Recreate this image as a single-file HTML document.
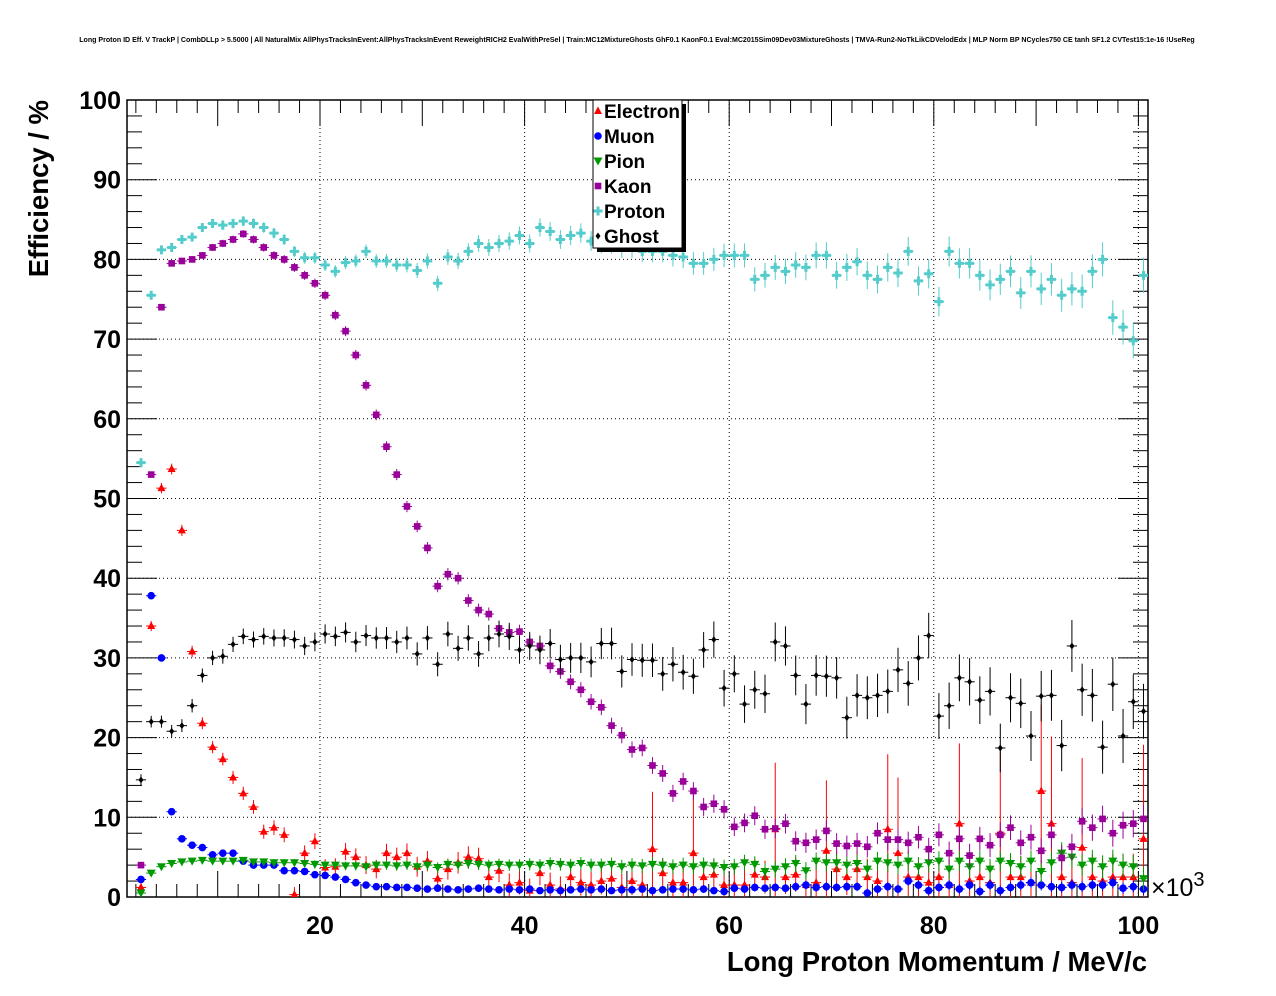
<!DOCTYPE html>
<html><head><meta charset="utf-8"><style>
html,body{margin:0;padding:0;background:#fff;}
svg{display:block;font-family:"Liberation Sans",Arial,sans-serif;}
</style></head><body>
<svg id="chart" width="1276" height="996" viewBox="0 0 1276 996" xmlns="http://www.w3.org/2000/svg">
<defs><clipPath id="pc"><rect x="127" y="100" width="1021" height="797"/></clipPath></defs>
<rect width="1276" height="996" fill="#fff"/>
<text x="637" y="42" font-size="7.05" font-weight="bold" text-anchor="middle">Long Proton ID Eff. V TrackP | CombDLLp &gt; 5.5000 | All NaturalMix AllPhysTracksInEvent:AllPhysTracksInEvent ReweightRICH2 EvalWithPreSel | Train:MC12MixtureGhosts GhF0.1 KaonF0.1 Eval:MC2015Sim09Dev03MixtureGhosts | TMVA-Run2-NoTkLikCDVelodEdx | MLP Norm BP NCycles750 CE tanh SF1.2 CVTest15:1e-16 !UseReg</text>
<g id="grid"></g><g id="axes"></g><g id="marks" clip-path="url(#pc)"></g><g id="legend"></g>
</svg>
<script>
const xTicks=[20,40,60,80,100];
const yTicks=[0,10,20,30,40,50,60,70,80,90,100];
const electron=[1.2,34,51.3,53.7,46,30.8,21.8,18.8,17.3,15,13,11.3,8.2,8.7,7.8,0.3,5.5,7,3.7,3.8,5.7,5,4,3.5,5.5,5,5.5,3.8,4.5,2.3,3.5,4.3,5,4.8,2.5,3.3,1.5,1.8,0.8,3,1.5,1,2.5,1.8,1.5,2,2.3,1.2,2,1.5,6,3,1.8,1.8,5.5,2.5,2.8,1.5,1.5,1.5,2.8,2.5,8.5,2.5,2.8,1.5,1.8,5.8,3.5,2.5,3.5,2.5,2,8.5,5.5,2.5,2.5,1.8,2.5,1.5,9.2,2,2.5,1.8,8,2.5,2.5,1.8,13.3,9.2,2.5,1.8,6.2,2.5,2,2.5,2.5,2.5,7.3];
const muon=[2.2,37.8,30,10.7,7.3,6.5,6.2,5.3,5.5,5.5,4.5,4,4,4,3.3,3.3,3.2,2.8,2.7,2.5,2.2,1.8,1.5,1.3,1.3,1.2,1.2,1.1,1,1.1,1,0.9,1,1.1,1,0.9,1,0.9,1,0.8,0.9,0.8,0.9,1,0.9,1,0.8,0.9,0.9,1,0.8,0.9,1,1,0.9,1,0.8,0.7,1.1,1,1.2,1.1,1.2,1.1,1.3,1.5,1.2,1.3,1.2,1.3,1.3,0.5,1,1.3,1,2,1.5,0.8,1.2,1.5,1,1.5,0.7,1.5,0.8,1.2,1.5,1.8,1.5,1.3,1.2,1.5,1.3,1.5,1.5,1.8,1.1,1.3,1,1.3];
const pion=[0.5,3,3.8,4.2,4.4,4.5,4.6,4.5,4.5,4.5,4.6,4.4,4.4,4.3,4.3,4.3,4.2,4.1,4,4,3.9,3.9,3.8,4,4,3.9,4,3.8,4,3.7,4.1,4,4.2,4.1,4,4.1,4,4,4.1,4,4.2,4.1,4,4.2,4,4,4.1,3.8,4,3.9,4.1,4,3.8,4,3.8,4,3.9,3.7,3.8,4.3,4.1,3.2,3.5,3.8,4.2,3.3,4.5,4.3,4.3,4,4.2,3.5,4.5,4.3,4,4.5,3.8,4.3,4.5,3.5,4.5,3.8,4.5,3.5,4.5,4.2,3.8,4.5,3.2,4.3,5.5,5,4,4.5,3.8,4.5,4,3.8,2.3];
const kaon=[4,53,74,79.5,79.8,80,80.5,81.5,82,82.5,83.2,82.5,81.5,80.5,80,79,78,77,75.5,73,71,68,64.2,60.5,56.5,53,49,46.5,43.8,39,40.5,40,37.2,36,35.5,33.7,33.2,33.3,32,31.5,29,28.3,27,26,24.5,23.8,21.5,20.3,18.5,18.7,16.5,15.5,13,14.5,13.3,11.3,11.7,11,8.8,9.3,10.2,8.5,8.6,9.2,7,6.8,7.2,8.3,6.7,6.4,6.7,6.3,8,7.2,7.2,6.8,7.5,6,7.8,5.5,7.3,5.2,7.3,6.5,7.8,8.7,6.8,7.5,5.8,7.8,4.9,6.3,9.5,8.7,9.8,8,9,9.2,9.8];
const proton=[54.5,75.5,81.2,81.5,82.5,82.8,84,84.5,84.3,84.5,84.8,84.5,84,83.3,82.5,81,80.2,80.2,79.3,78.5,79.6,79.8,81,79.8,79.8,79.3,79.3,78.6,79.8,77,80.3,79.8,81,82,81.5,82,82.3,83,82,84,83.5,82.5,83,83.3,82.3,82,82,81.5,81.5,81,81,81,80.5,80.3,79.5,79.5,80,80.5,80.5,80.5,77.5,78,79,78.5,79.3,79,80.5,80.5,78,79,79.7,78,77.5,79,78.3,81,77.3,78.2,74.7,81,79.5,79.5,78,76.8,77.5,78.5,75.8,78.5,76.3,77.5,75.5,76.3,76,78.5,80,72.7,71.5,69.8,78];
const ghost=[14.7,22,22,20.8,21.5,24,27.8,30,30.2,31.7,32.7,32.3,32.7,32.5,32.5,32.3,31.5,32,33,32.7,33.2,32,32.8,32.5,32.5,32,32.5,30.5,32.5,29.2,33,31.2,32.5,30.5,32.5,33,32.7,31,31.5,31,31.8,29.8,30,30,29.5,31.8,31.8,28.3,29.8,29.7,29.7,28,29.2,28.2,27.7,31,32.3,26.2,28,24.2,26,25.5,32,31.5,27.8,24.2,27.8,27.7,27.5,22.5,25.3,25,25.3,25.8,28.5,26.8,30,32.8,22.7,24,27.5,27,24.7,25.8,18.7,25,24.3,20.2,25.2,25.3,19,31.5,26,25.3,18.8,26.7,20.2,24.5,23.3];
const x0=115.4, xs=10.23, y0=897, ys=7.97;
const X=v=>x0+v*xs, Y=v=>y0-v*ys;
const L=127,R=1148,T=100,B=897;
const NS="http://www.w3.org/2000/svg";
function mk(tag,attrs,parent){const e=document.createElementNS(NS,tag);for(const k in attrs)e.setAttribute(k,attrs[k]);parent.appendChild(e);return e;}
const grid=document.getElementById('grid'),axes=document.getElementById('axes'),marks=document.getElementById('marks'),leg=document.getElementById('legend');
xTicks.forEach(t=>{const l=mk('line',{x1:X(t),x2:X(t),y1:T,y2:B,stroke:'#000','stroke-width':1,'stroke-dasharray':'1,3'},grid);

});
yTicks.forEach(t=>{if(t===0||t===100)return;const l=mk('line',{x1:L,x2:R,y1:Y(t),y2:Y(t),stroke:'#000','stroke-width':1,'stroke-dasharray':'1,3'},grid);

});
const fr=mk('rect',{x:L,y:T,width:R-L,height:B-T,fill:'none',stroke:'#000','stroke-width':1.5},axes);


for(let v=2;v<=100;v+=2){const big=v%10===0;mk('line',{x1:X(v),x2:X(v),y1:B,y2:B-(big?26:13),stroke:'#000','stroke-width':1},axes);mk('line',{x1:X(v),x2:X(v),y1:T,y2:T+(big?26:13),stroke:'#000','stroke-width':1},axes);}
for(let v=0;v<=100;v+=2){const big=v%10===0;mk('line',{x1:L,x2:L+(big?30:15),y1:Y(v),y2:Y(v),stroke:'#000','stroke-width':1},axes);mk('line',{x1:R,x2:R-(big?30:15),y1:Y(v),y2:Y(v),stroke:'#000','stroke-width':1},axes);}
xTicks.forEach(t=>{const e=mk('text',{x:X(t),y:934,'font-size':25,'font-weight':'bold','text-anchor':'middle'},axes);e.textContent=t;

});
yTicks.forEach(t=>{const e=mk('text',{x:121,y:Y(t)+9,'font-size':25,'font-weight':'bold','text-anchor':'end'},axes);e.textContent=t;

});
const ex=mk('text',{x:1151,y:896,'font-size':25},axes);ex.innerHTML='×10<tspan dy="-10" font-size="20">3</tspan>';


const xt=mk('text',{x:1147,y:971,'font-size':27.5,'font-weight':'bold','text-anchor':'end'},axes);xt.textContent='Long Proton Momentum / MeV/c';


const yt=mk('text',{x:0,y:0,'font-size':27.5,'font-weight':'bold','text-anchor':'end',transform:'translate(48,100) rotate(-90)'},axes);yt.textContent='Efficiency / %';


function marker(g,shape,cx,cy,c){
 if(shape==='tri')mk('polygon',{points:`${cx},${cy-4.5} ${cx-4},${cy+3} ${cx+4},${cy+3}`,fill:c},g);
 else if(shape==='tridown')mk('polygon',{points:`${cx},${cy+4.5} ${cx-4.5},${cy-3.5} ${cx+4.5},${cy-3.5}`,fill:c},g);
 else if(shape==='circ')mk('circle',{cx:cx,cy:cy,r:3.8,fill:c},g);
 else if(shape==='sq')mk('rect',{x:cx-3.3,y:cy-3.3,width:6.6,height:6.6,fill:c},g);
 else if(shape==='cross')mk('path',{d:`M${cx-4.5},${cy-1.5}h3v-3h3v3h3v3h-3v3h-3v-3h-3z`,fill:c},g);
 else if(shape==='dia')mk('polygon',{points:`${cx},${cy-3.5} ${cx+2.5},${cy} ${cx},${cy+3.5} ${cx-2.5},${cy}`,fill:c},g);
}
const series=[
 {name:'Electron',data:electron,c:'#ff0000',s:'tri',e:0.6},
 {name:'Muon',data:muon,c:'#0000ff',s:'circ',e:0.15},
 {name:'Pion',data:pion,c:'#009900',s:'tridown',e:0.3},
 {name:'Kaon',data:kaon,c:'#990099',s:'sq',e:0.35},
 {name:'Proton',data:proton,c:'#55cccc',s:'cross',e:0.45},
 {name:'Ghost',data:ghost,c:'#000000',s:'dia',e:0.7}];
series.forEach(sr=>{
 const g=mk('g',{},marks);
 
 
 sr.data.forEach((v,i)=>{
  const xv=2.5+i, cx=X(xv), cy=Y(v);
  const err=sr.e*(1+i/25)*(sr.name==='Electron'&&v>5&&i>40?4:1);
  mk('line',{x1:X(xv-0.5),x2:X(xv+0.5),y1:cy,y2:cy,stroke:sr.c,'stroke-width':1},g);
  mk('line',{x1:cx,x2:cx,y1:Y(Math.min(100,v+err)),y2:Y(Math.max(0,v-err)),stroke:sr.c,'stroke-width':1},g);
  marker(g,sr.s,cx,cy,sr.c);
 });
});
mk('rect',{x:597,y:104,width:89,height:148,fill:'#000'},leg);
const lb=mk('rect',{x:593,y:100,width:89,height:148,fill:'#fff',stroke:'#000','stroke-width':1},leg);


series.forEach((sr,i)=>{const g=mk('g',{},leg);
 
 
 const cy=111+i*25;marker(g,sr.s,598,cy,sr.c);
 const t=mk('text',{x:604,y:cy+7,'font-size':19,'font-weight':'bold'},g);t.textContent=sr.name;});
</script>
</body></html>
